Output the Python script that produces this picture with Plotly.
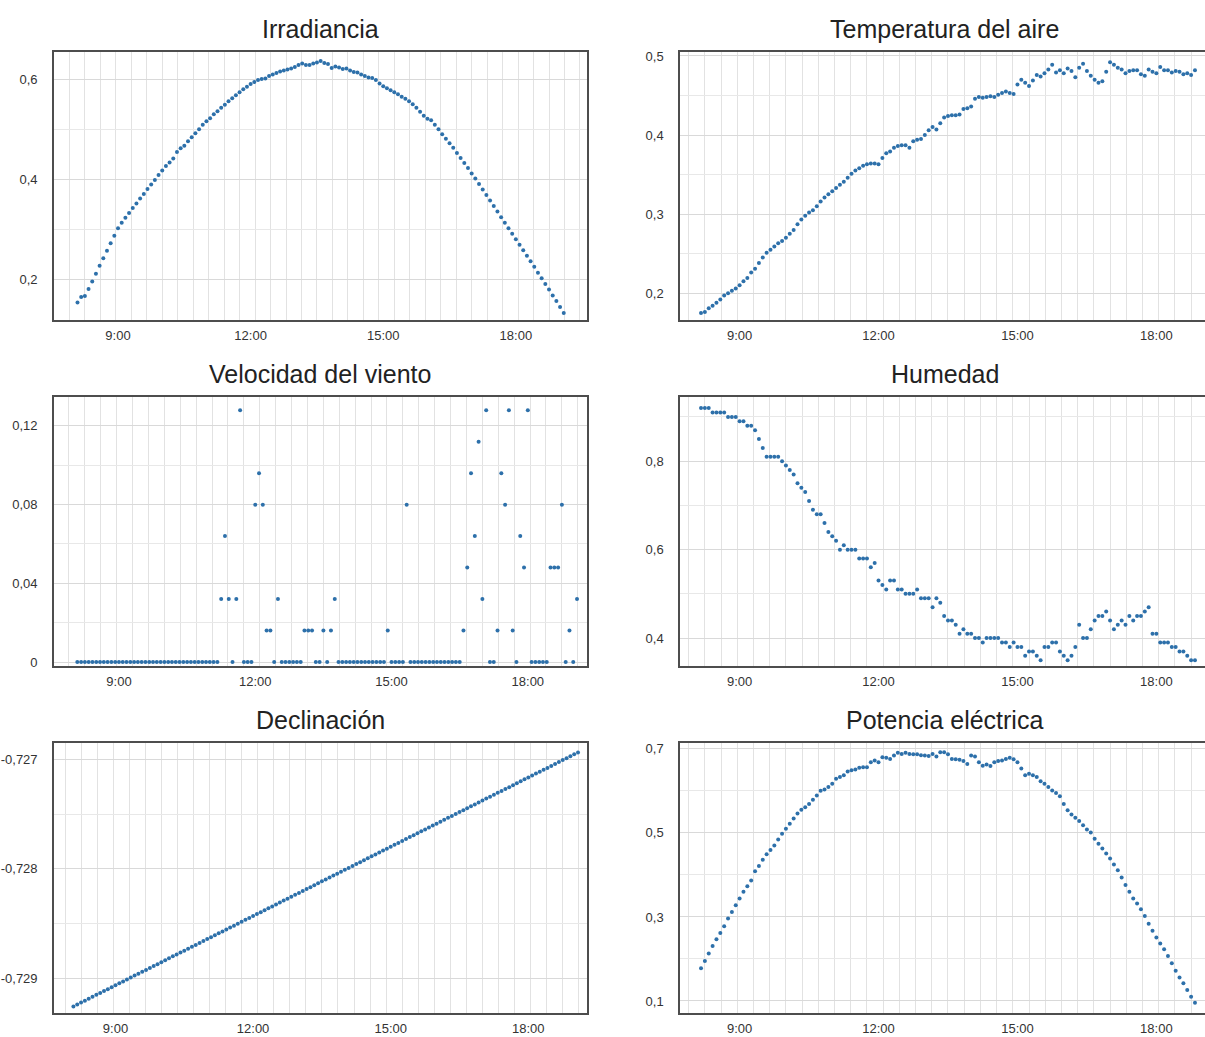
import plotly.graph_objects as go
import pandas as pd

titles = ["Irradiancia", "Temperatura del aire", "Velocidad del viento",
          "Humedad", "Declinación", "Potencia eléctrica"]

irradiancia = [
    0.155, 0.166, 0.168, 0.182, 0.197, 0.212, 0.228, 0.243, 0.258, 0.273,
    0.288, 0.303, 0.314, 0.324, 0.333, 0.343, 0.352, 0.362, 0.371, 0.381,
    0.390, 0.399, 0.409, 0.418, 0.427, 0.434, 0.442, 0.455, 0.462, 0.467,
    0.476, 0.484, 0.492, 0.500, 0.509, 0.516, 0.522, 0.530, 0.536, 0.543,
    0.549, 0.556, 0.562, 0.568, 0.574, 0.580, 0.585, 0.590, 0.594, 0.598,
    0.600, 0.601, 0.606, 0.609, 0.612, 0.615, 0.617, 0.619, 0.621, 0.624,
    0.628, 0.631, 0.628, 0.628, 0.631, 0.633, 0.636, 0.632, 0.630, 0.622,
    0.625, 0.623, 0.620, 0.621, 0.617, 0.614, 0.613, 0.609, 0.606, 0.603,
    0.602, 0.598, 0.591, 0.586, 0.582, 0.578, 0.574, 0.570, 0.565, 0.561,
    0.556, 0.550, 0.543, 0.535, 0.527, 0.521, 0.518, 0.509, 0.500, 0.490,
    0.481, 0.472, 0.463, 0.453, 0.443, 0.433, 0.423, 0.412, 0.402, 0.391,
    0.380, 0.369, 0.358, 0.347, 0.336, 0.325, 0.314, 0.303, 0.292, 0.281,
    0.270, 0.259, 0.248, 0.237, 0.226, 0.214, 0.203, 0.192, 0.181, 0.169,
    0.158, 0.146, 0.134]

temperatura = [
    0.175, 0.176, 0.181, 0.184, 0.188, 0.192, 0.197, 0.200, 0.203, 0.206,
    0.210, 0.215, 0.219, 0.226, 0.231, 0.238, 0.245, 0.251, 0.255, 0.259,
    0.263, 0.266, 0.270, 0.275, 0.280, 0.287, 0.293, 0.298, 0.302, 0.305,
    0.310, 0.316, 0.321, 0.325, 0.329, 0.333, 0.337, 0.341, 0.346, 0.351,
    0.355, 0.358, 0.361, 0.363, 0.364, 0.364, 0.363, 0.371, 0.377, 0.379,
    0.384, 0.386, 0.387, 0.387, 0.384, 0.392, 0.394, 0.395, 0.400, 0.406,
    0.410, 0.407, 0.415, 0.422, 0.424, 0.425, 0.425, 0.426, 0.433, 0.434,
    0.436, 0.446, 0.448, 0.447, 0.448, 0.449, 0.448, 0.451, 0.453, 0.455,
    0.453, 0.452, 0.464, 0.470, 0.466, 0.462, 0.469, 0.476, 0.474, 0.478,
    0.483, 0.489, 0.479, 0.482, 0.478, 0.484, 0.481, 0.473, 0.485, 0.490,
    0.481, 0.475, 0.470, 0.466, 0.468, 0.480, 0.492, 0.489, 0.485, 0.483,
    0.478, 0.481, 0.482, 0.482, 0.477, 0.475, 0.483, 0.480, 0.478, 0.486,
    0.482, 0.482, 0.479, 0.481, 0.480, 0.477, 0.478, 0.476, 0.482]

velocidad_viento = [
    0, 0, 0, 0, 0, 0, 0, 0, 0, 0, 0, 0, 0, 0, 0, 0, 0, 0, 0, 0,
    0, 0, 0, 0, 0, 0, 0, 0, 0, 0, 0, 0, 0, 0, 0, 0, 0, 0,
    0.032, 0.064, 0.032, 0, 0.032, 0.128, 0, 0, 0,
    0.08, 0.096, 0.08, 0.016, 0.016, 0, 0.032,
    0, 0, 0, 0, 0, 0,
    0.016, 0.016, 0.016, 0, 0,
    0.016, 0, 0.016, 0.032,
    0, 0, 0, 0, 0, 0, 0, 0, 0, 0, 0, 0, 0,
    0.016, 0, 0, 0, 0, 0.08,
    0, 0, 0, 0, 0, 0, 0, 0, 0, 0, 0, 0, 0, 0,
    0.016, 0.048, 0.096, 0.064, 0.112, 0.032, 0.128, 0, 0,
    0.016, 0.096, 0.08, 0.128, 0.016, 0, 0.064, 0.048, 0.128,
    0, 0, 0, 0, 0,
    0.048, 0.048, 0.048, 0.08, 0, 0.016, 0, 0.032]

humedad = [
    0.92, 0.92, 0.92, 0.91, 0.91, 0.91, 0.91, 0.90, 0.90, 0.90,
    0.89, 0.89, 0.88, 0.88, 0.87, 0.85, 0.83, 0.81, 0.81, 0.81,
    0.81, 0.80, 0.79, 0.78, 0.77, 0.75, 0.74, 0.73, 0.71, 0.69,
    0.68, 0.68, 0.66, 0.64, 0.63, 0.62, 0.60, 0.61, 0.60, 0.60,
    0.60, 0.58, 0.58, 0.58, 0.56, 0.57, 0.53, 0.52, 0.51, 0.53,
    0.53, 0.51, 0.51, 0.50, 0.50, 0.50, 0.51, 0.49, 0.49, 0.49,
    0.47, 0.49, 0.48, 0.45, 0.44, 0.44, 0.43, 0.41, 0.42, 0.41,
    0.41, 0.40, 0.40, 0.39, 0.40, 0.40, 0.40, 0.40, 0.39, 0.39,
    0.38, 0.39, 0.38, 0.38, 0.36, 0.37, 0.37, 0.36, 0.35, 0.38,
    0.38, 0.39, 0.39, 0.37, 0.36, 0.35, 0.36, 0.38, 0.43, 0.40,
    0.40, 0.42, 0.44, 0.45, 0.45, 0.46, 0.44, 0.42, 0.43, 0.44,
    0.43, 0.45, 0.44, 0.45, 0.45, 0.46, 0.47, 0.41, 0.41, 0.39,
    0.39, 0.39, 0.38, 0.38, 0.37, 0.37, 0.36, 0.35, 0.35]

declinacion = [
    -0.729260, -0.729242, -0.729225, -0.729207, -0.729190, -0.729172, -0.729154,
    -0.729137, -0.729119, -0.729102, -0.729084, -0.729066, -0.729049, -0.729031,
    -0.729014, -0.728996, -0.728978, -0.728961, -0.728943, -0.728926, -0.728908,
    -0.728890, -0.728873, -0.728855, -0.728838, -0.728820, -0.728802, -0.728785,
    -0.728767, -0.728750, -0.728732, -0.728714, -0.728697, -0.728679, -0.728662,
    -0.728644, -0.728626, -0.728609, -0.728591, -0.728574, -0.728556, -0.728538,
    -0.728521, -0.728503, -0.728486, -0.728468, -0.728450, -0.728433, -0.728415,
    -0.728398, -0.728380, -0.728362, -0.728345, -0.728327, -0.728310, -0.728292,
    -0.728274, -0.728257, -0.728239, -0.728222, -0.728204, -0.728186, -0.728169,
    -0.728151, -0.728134, -0.728116, -0.728098, -0.728081, -0.728063, -0.728046,
    -0.728028, -0.728010, -0.727993, -0.727975, -0.727958, -0.727940, -0.727922,
    -0.727905, -0.727887, -0.727870, -0.727852, -0.727834, -0.727817, -0.727799,
    -0.727782, -0.727764, -0.727746, -0.727729, -0.727711, -0.727694, -0.727676,
    -0.727658, -0.727641, -0.727623, -0.727606, -0.727588, -0.727570, -0.727553,
    -0.727535, -0.727518, -0.727500, -0.727482, -0.727465, -0.727447, -0.727430,
    -0.727412, -0.727394, -0.727377, -0.727359, -0.727342, -0.727324, -0.727306,
    -0.727289, -0.727271, -0.727254, -0.727236, -0.727218, -0.727201, -0.727183,
    -0.727166, -0.727148, -0.727130, -0.727113, -0.727095, -0.727078, -0.727060,
    -0.727042, -0.727025, -0.727007, -0.726990, -0.726972, -0.726954, -0.726937]

potencia = [
    0.178, 0.195, 0.213, 0.231, 0.247, 0.262, 0.278, 0.296, 0.312, 0.328,
    0.344, 0.360, 0.373, 0.387, 0.409, 0.421, 0.436, 0.449, 0.459, 0.470,
    0.484, 0.498, 0.510, 0.522, 0.534, 0.546, 0.555, 0.561, 0.569, 0.579,
    0.589, 0.600, 0.603, 0.609, 0.617, 0.629, 0.633, 0.637, 0.646, 0.649,
    0.651, 0.655, 0.656, 0.656, 0.668, 0.672, 0.668, 0.680, 0.679, 0.676,
    0.684, 0.691, 0.688, 0.691, 0.688, 0.687, 0.687, 0.685, 0.684, 0.683,
    0.688, 0.682, 0.692, 0.692, 0.687, 0.676, 0.675, 0.674, 0.671, 0.664,
    0.684, 0.682, 0.668, 0.660, 0.663, 0.659, 0.668, 0.671, 0.672, 0.676,
    0.679, 0.675, 0.668, 0.653, 0.637, 0.641, 0.637, 0.633, 0.623, 0.617,
    0.609, 0.601, 0.595, 0.587, 0.569, 0.554, 0.544, 0.536, 0.528, 0.518,
    0.508, 0.501, 0.486, 0.474, 0.463, 0.451, 0.439, 0.425, 0.411, 0.394,
    0.376, 0.360, 0.344, 0.332, 0.318, 0.302, 0.284, 0.267, 0.251, 0.237,
    0.223, 0.207, 0.190, 0.172, 0.156, 0.142, 0.126, 0.110, 0.096]

declinacion_ticks = [-0.729, -0.728, -0.727]
declinacion_ticktext = ["-0,729", "-0,728", "-0,727"]

day = pd.Timestamp("2024-03-01")
time_left = pd.date_range(day + pd.Timedelta(minutes=8 * 60 + 5), periods=len(irradiancia), freq="5min")
time_right = pd.date_range(day + pd.Timedelta(minutes=8 * 60 + 10), periods=len(temperatura), freq="5min")


def t(minutes):
    return (day + pd.Timedelta(minutes=minutes)).strftime("%Y-%m-%d %H:%M:%S")


# layout geometry (paper fractions)
XD_L = [0.0, 0.4631]
XD_R = [0.5439, 1.0]
YD = [[0.7211, 1.0], [0.3611, 0.6410], [0.0, 0.2810]]

panels = [
    # title, y, x, xdomain, ydomain, xrange(min), yrange, tick0, dtick, minor dtick
    (titles[0], irradiancia, time_left, XD_L, YD[0], (453.1, 1176.6), (0.12, 0.654), 0.2, 0.2, 0.1),
    (titles[1], temperatura, time_right, XD_R, YD[0], (462.8, 1143.0), (0.166, 0.505), 0.2, 0.1, 0.05),
    (titles[2], velocidad_viento, time_left, XD_L, YD[1], (454.2, 1158.2), (-0.002, 0.1347), 0, 0.04, 0.02),
    (titles[3], humedad, time_right, XD_R, YD[1], (462.8, 1143.0), (0.337, 0.945), 0.4, 0.2, 0.1),
    (titles[4], declinacion, time_left, XD_L, YD[2], (459.6, 1156.8), (-0.72932, -0.72685), -0.729, 0.001, 0.0005),
    (titles[5], potencia, time_right, XD_R, YD[2], (462.8, 1143.0), (0.0714, 0.714), 0.1, 0.2, 0.1),
]

FONT = "Liberation Sans, Arial, Helvetica, sans-serif"
MARKER = "#2d70aa"
FRAME = "#4d4d4d"

fig = go.Figure()
layout = dict(
    width=1205, height=1037,
    margin=dict(l=54, r=0, t=52, b=24),
    paper_bgcolor="white", plot_bgcolor="white",
    separators=",.",
    showlegend=False,
    font=dict(family=FONT, size=13, color="#333333"),
    annotations=[],
)

for k, (title, yvals, times, xd, yd, xr, yr, t0, dt, mdt) in enumerate(panels, start=1):
    sfx = "" if k == 1 else str(k)
    fig.add_trace(go.Scatter(
        x=times, y=yvals, mode="markers",
        marker=dict(size=4, color=MARKER),
        xaxis="x" + sfx, yaxis="y" + sfx, hoverinfo="skip",
    ))
    right_col = xd is XD_R
    layout["xaxis" + sfx] = dict(
        domain=xd, anchor="y" + sfx, type="date",
        range=[t(xr[0]), t(xr[1])],
        tick0=t(0), dtick=3 * 3600 * 1000, tickformat="%-H:%M",
        showgrid=False, zeroline=False,
        showline=True, linecolor=FRAME, linewidth=1.6, mirror=True,
        ticks="outside", ticklen=3, tickcolor="rgba(0,0,0,0)",
        tickfont=dict(size=13, color="#333333"),
        minor=dict(dtick=21 * 60 * 1000, tick0=t(8 * 60 + 57), showgrid=True,
                   gridcolor="#e2e2e2", gridwidth=1, ticklen=0),
    )
    ydict = dict(
        domain=yd, anchor="x" + sfx,
        range=list(yr), tick0=t0, dtick=dt,
        showgrid=True, gridcolor="#d9d9d9", gridwidth=1,
        zeroline=False,
        showline=True, linecolor=FRAME, linewidth=1.6, mirror=not right_col,
        ticks="outside", ticklen=12, tickcolor="rgba(0,0,0,0)",
        tickfont=dict(size=13, color="#333333"),
        minor=dict(dtick=mdt, tick0=t0, showgrid=True, gridcolor="#e8e8e8",
                   gridwidth=1, ticklen=0),
    )
    if title == titles[4]:
        ydict.update(tickmode="array", tickvals=declinacion_ticks,
                     ticktext=declinacion_ticktext)
        ydict["minor"] = dict(tickmode="array",
                              tickvals=[-0.7285, -0.7275],
                              showgrid=True, gridcolor="#e8e8e8", gridwidth=1, ticklen=0)
    layout["yaxis" + sfx] = ydict
    layout["annotations"].append(dict(
        text=title, xref="paper", yref="paper",
        x=(0.7741 if right_col else 0.2315),
        y=yd[1] + 0.024, xanchor="center", yanchor="middle",
        showarrow=False, font=dict(family=FONT, size=25, color="#222222"),
    ))

fig.update_layout(**layout)
fig.write_html("out.html")
